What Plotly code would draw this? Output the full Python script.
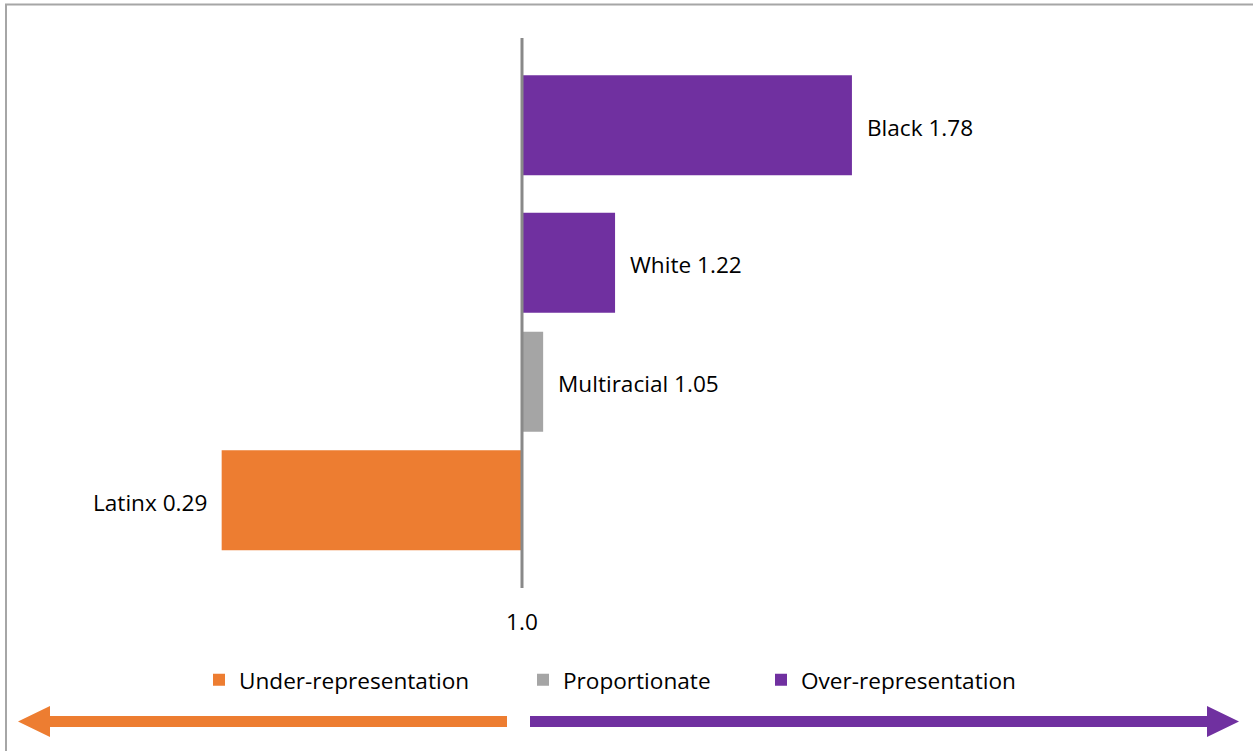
import plotly.graph_objects as go

# ---- data ----
categories = ["Black", "White", "Multiracial", "Latinx"]
ratios = [1.78, 1.22, 1.05, 0.29]
groups = ["Over-representation", "Over-representation", "Proportionate", "Under-representation"]
legend_order = ["Under-representation", "Proportionate", "Over-representation"]
group_colors = {"Under-representation": "#ED7D31",
                "Proportionate": "#A5A5A5",
                "Over-representation": "#7030A0"}
# per-series position shift inside a category (Excel cluster overlap), in category units
group_shift = {"Under-representation": -0.138, "Proportionate": 0.0, "Over-representation": 0.135}
reference_value = 1.0
tick_labels = ["1.0"]

W, H = 1253, 751
ML, MR, MT, MB = 20, 20, 38, 163
PW, PH = W - ML - MR, H - MT - MB
px_per_unit = 423.0
ref_px = 522
x_lo = reference_value - (ref_px - ML) / px_per_unit
x_hi = reference_value + (W - MR - ref_px) / px_per_unit
bar_w = 0.727

FONT = "Open Sans"
FS = 22.6

def P(px, py):
    return (px - ML) / PW, (H - MB - py) / PH

# legend square left positions (px) for each legend entry
legend_square_px = {"Under-representation": 213, "Proportionate": 537, "Over-representation": 775}
legend_names = {"Under-representation": "legend", "Proportionate": "legend2", "Over-representation": "legend3"}

fig = go.Figure()
for g in legend_order:
    ys = [c for c, gg in zip(categories, groups) if gg == g]
    xs = [r - reference_value for r, gg in zip(ratios, groups) if gg == g]
    fig.add_trace(go.Bar(
        y=ys, x=xs, base=reference_value, orientation="h", name=g,
        legend=legend_names[g], showlegend=True,
        marker=dict(color=group_colors[g], line=dict(width=0)),
        width=bar_w, offset=group_shift[g] - bar_w / 2,
        hovertemplate="%{y}: %{customdata}<extra></extra>",
        customdata=[r for r, gg in zip(ratios, groups) if gg == g],
    ))

# value labels
for c, r, g in zip(categories, ratios, groups):
    right = r >= reference_value
    fig.add_annotation(
        x=r, y=c, xref="x", yref="y", text=f"{c} {r:.2f}", showarrow=False,
        xanchor="left" if right else "right", xshift=13 if right else -13,
        yshift=-group_shift[g] * PH / 4 - 2,
        font=dict(family=FONT, size=FS, color="#000000"),
    )

def path(points):
    s = ""
    for i, (px, py) in enumerate(points):
        x, y = P(px, py)
        s += ("M" if i == 0 else "L") + f"{x:.5f},{y:.5f} "
    return s + "Z"

shapes = []
# reference line at 1.0
shapes.append(dict(type="line", xref="x", yref="paper", x0=reference_value, x1=reference_value,
                   y0=0, y1=1, line=dict(color="#898989", width=3), layer="above"))
# left (orange) arrow
shapes.append(dict(type="path", xref="paper", yref="paper", layer="above",
                   path=path([(507, 716), (50, 716), (50, 706), (18, 721.5), (50, 737),
                              (50, 727), (507, 727)]),
                   fillcolor="#ED7D31", line=dict(width=0)))
# right (purple) arrow
shapes.append(dict(type="path", xref="paper", yref="paper", layer="above",
                   path=path([(530, 716), (1207, 716), (1207, 706), (1239, 721.5), (1207, 737),
                              (1207, 727), (530, 727)]),
                   fillcolor="#7030A0", line=dict(width=0)))
# outer frame
x0, y0 = P(6, 4.5)
x1, y1 = P(1270, 770)
shapes.append(dict(type="rect", xref="paper", yref="paper", x0=x0, y0=y0, x1=x1, y1=y1,
                   line=dict(color="#A6A6A6", width=2), fillcolor="rgba(0,0,0,0)", layer="below"))

legend_common = dict(orientation="h", xanchor="left", yanchor="middle",
                     font=dict(family=FONT, size=FS, color="#000000"),
                     bgcolor="rgba(0,0,0,0)", borderwidth=0, visible=True)
legend_layout = {}
for g in legend_order:
    lx, ly = P(legend_square_px[g] - 14, 680)
    legend_layout[legend_names[g]] = dict(x=lx, y=ly, **legend_common)

fig.update_layout(
    width=W, height=H,
    margin=dict(l=ML, r=MR, t=MT, b=MB),
    paper_bgcolor="white", plot_bgcolor="white",
    barmode="overlay",
    showlegend=True,
    font=dict(family=FONT, size=FS, color="#000000"),
    xaxis=dict(range=[x_lo, x_hi], tickvals=[reference_value], ticktext=tick_labels,
               showgrid=False, zeroline=False, showline=False,
               ticks="outside", ticklen=14, tickcolor="rgba(0,0,0,0)",
               tickfont=dict(family=FONT, size=FS, color="#000000"), fixedrange=True),
    yaxis=dict(categoryorder="array", categoryarray=categories, autorange=False,
               range=[3.5, -0.5], showticklabels=False, showgrid=False, zeroline=False,
               showline=False, ticks="", fixedrange=True),
    shapes=shapes,
    **legend_layout,
)

fig.write_html("out.html", config={"displayModeBar": False},
               post_script="document.body.style.margin='0';document.body.style.overflow='hidden';")
